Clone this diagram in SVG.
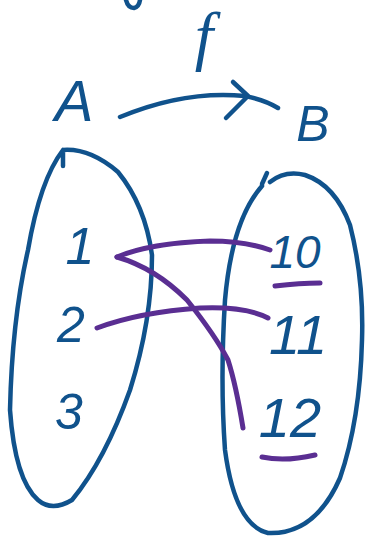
<svg xmlns="http://www.w3.org/2000/svg" width="366" height="537" viewBox="0 0 366 537">
<style>
.b{fill:none;stroke:#10528c;stroke-width:4.5;stroke-linecap:round;stroke-linejoin:round}
.p{fill:none;stroke:#5a2e92;stroke-width:5;stroke-linecap:round;stroke-linejoin:round}
.t{fill:#10528c;font-family:"Liberation Sans",sans-serif;font-style:italic;text-anchor:middle}
.s{font-family:"Liberation Serif",serif}
</style>
<rect width="366" height="537" fill="#ffffff"/>
<path class="b" d="M126,0 Q128,8 134,8 Q139,7 140,0"/>
<g id="label-f"><text class="t s" x="204" y="58" font-size="66">f</text></g>
<g id="node-A">
<text class="t" x="74" y="121" font-size="58">A</text>
<path class="b" d="M63,166 L63,150 Q90,148 118,172 Q145,205 152,255 Q152,320 130,390 Q105,460 72,500 Q52,512 38,500 Q15,480 10,410 Q12,320 28,250 Q40,180 63,150"/>
<text class="t" x="80" y="264" font-size="52">1</text>
<text class="t" x="71" y="342" font-size="50">2</text>
<text class="t" x="69" y="429" font-size="50">3</text>
</g>
<g id="node-B">
<text class="t" x="313" y="141" font-size="50">B</text>
<path class="b" d="M267,173 L262,184"/>
<path class="b" d="M270,182 Q285,170 305,175 Q335,185 350,225 Q364,280 362,340 Q360,420 340,478 Q315,535 268,533 Q235,525 225,450 Q220,380 225,300 Q232,220 262,186"/>
<text class="t" x="295" y="268" font-size="46">10</text>
<text class="t" x="298" y="354" font-size="56">11</text>
<text class="t" x="290" y="437" font-size="56">12</text>
</g>
<g id="connectors">
<path class="b" d="M120,117 Q185,90 245,96 Q265,100 278,108"/>
<path class="b" d="M233,82 L248,96 L226,118"/>
<path class="p" d="M117,257 Q150,243 210,241 Q245,241 270,250"/>
<path class="p" d="M117,257 Q155,268 187,300 Q215,335 228,360 Q236,385 243,428"/>
<path class="p" d="M97,328 Q140,312 200,308 Q245,306 268,318"/>
<path class="p" d="M275,286 Q300,283 320,283"/>
<path class="p" d="M262,457 Q285,462 315,455"/>
</g>
</svg>
